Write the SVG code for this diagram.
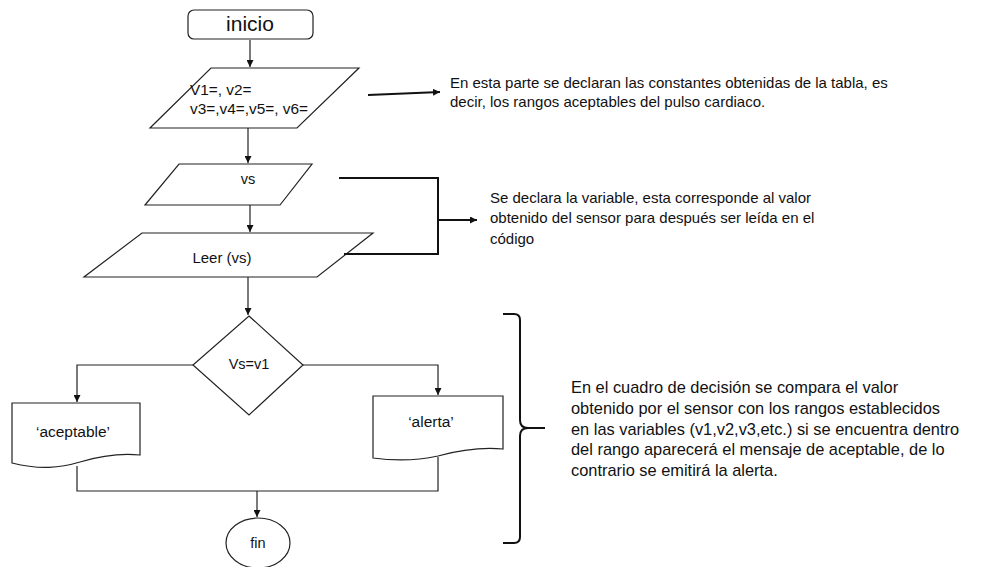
<svg xmlns="http://www.w3.org/2000/svg" width="991" height="567" viewBox="0 0 991 567">
<defs>
<style>
.s{fill:#fff;stroke:#222;stroke-width:1.2}
.c{fill:none;stroke:#222;stroke-width:1.2}
.b{fill:none;stroke:#111;stroke-width:2}
text{font-family:"Liberation Sans",Arial,sans-serif;fill:#111}
.m{text-anchor:middle;font-size:14.5px}
.n{font-size:15px}
.r{font-size:16.4px}
</style>
<marker id="ah" viewBox="0 0 10 10" refX="10" refY="5" markerWidth="7" markerHeight="7" markerUnits="userSpaceOnUse" orient="auto">
<path d="M0,0 L10,5 L0,10 Z" fill="#111"/>
</marker>
</defs>
<rect width="991" height="567" fill="#fff"/>
<g id="connectors">
<path class="c" d="M250,40 V67" marker-end="url(#ah)"/>
<path class="c" d="M248,128 V163" marker-end="url(#ah)"/>
<path class="c" d="M250,205 V232" marker-end="url(#ah)"/>
<path class="c" d="M248,277 V315" marker-end="url(#ah)"/>
<path class="c" d="M193,365 H77 V402" marker-end="url(#ah)"/>
<path class="c" d="M303,365 H438 V395" marker-end="url(#ah)"/>
<path class="c" d="M77,466 V491 H438 V457"/>
<path class="c" d="M257,491 V517" marker-end="url(#ah)"/>
</g>
<g id="inicio">
<rect class="s" x="188" y="10" width="125" height="29" rx="6"/>
<text class="m" x="250" y="31" style="font-size:21px">inicio</text>
</g>
<g id="constantes">
<path class="s" d="M211,68 H359 L297,128 H150 Z"/>
<text x="190" y="95" style="font-size:15.4px">V1=, v2=</text>
<text x="190" y="114" style="font-size:15.4px">v3=,v4=,v5=, v6=</text>
</g>
<g id="vs">
<path class="s" d="M179,164 H312 L280,205 H145 Z"/>
<text class="m" x="248" y="184">vs</text>
</g>
<g id="leer">
<path class="s" d="M142,233 H373 L317,277 H84 Z"/>
<text class="m" x="222" y="263" style="font-size:15px">Leer (vs)</text>
</g>
<g id="decision">
<path class="s" d="M249,316 L303,365 L249,415 L193,365 Z"/>
<text class="m" x="249" y="369">Vs=v1</text>
</g>
<g id="aceptable">
<path class="s" d="M12,403 H140 V455 C120,453 100,456 80,462 C60,468 40,470 12,463 Z"/>
<text class="m" x="73" y="437" style="font-size:15.5px">‘aceptable’</text>
</g>
<g id="alerta">
<path class="s" d="M373,396 H503 V449 C480,447 460,450 438,456 C415,461 395,461 373,458 Z"/>
<text class="m" x="431" y="427" style="font-size:15.5px">‘alerta’</text>
</g>
<g id="fin">
<ellipse class="s" cx="258" cy="543" rx="32" ry="25"/>
<text class="m" x="258" y="548">fin</text>
</g>
<g id="nota1">
<path class="b" d="M368,95 L440,92" marker-end="url(#ah)" style="stroke-width:1.8"/>
<text class="n" x="450" y="88">En esta parte se declaran las constantes obtenidas de la tabla, es</text>
<text class="n" x="450" y="107">decir, los rangos aceptables del pulso cardiaco.</text>
</g>
<g id="nota2">
<path class="b" d="M339,178 H438 V254 H344"/>
<path class="b" d="M438,220 H477" marker-end="url(#ah)" style="stroke-width:1.8"/>
<text class="n" x="490" y="203">Se declara la variable, esta corresponde al valor</text>
<text class="n" x="490" y="223">obtenido del sensor para después ser leída en el</text>
<text class="n" x="490" y="244">código</text>
</g>
<g id="nota3">
<path class="b" d="M503,314 H514 Q520,314 520,320 V420 Q520,428 528,428 H545 M528,428 Q520,428 520,436 V537 Q520,543 514,543 H503"/>
<text class="r" x="571" y="393">En el cuadro de decisión se compara el valor</text>
<text class="r" x="571" y="414">obtenido por el sensor con los rangos establecidos</text>
<text class="r" x="571" y="435">en las variables (v1,v2,v3,etc.) si se encuentra dentro</text>
<text class="r" x="571" y="455">del rango aparecerá el mensaje de aceptable, de lo</text>
<text class="r" x="571" y="476">contrario se emitirá la alerta.</text>
</g>
</svg>
